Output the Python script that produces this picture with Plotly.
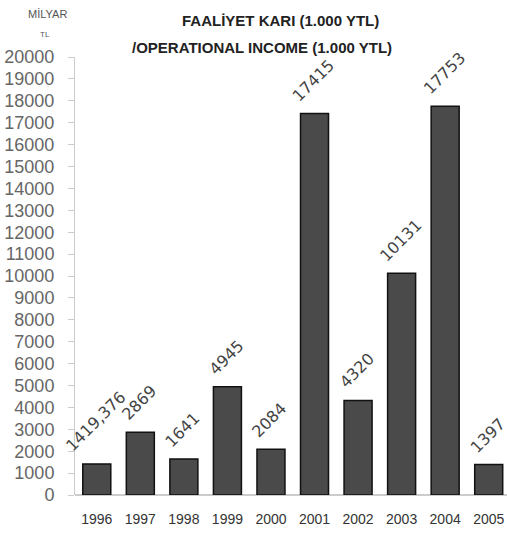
import plotly.graph_objects as go

years = ["1996", "1997", "1998", "1999", "2000", "2001", "2002", "2003", "2004", "2005"]
values = [1419.376, 2869, 1641, 4945, 2084, 17415, 4320, 10131, 17753, 1397]
labels = ["1419,376", "2869", "1641", "4945", "2084", "17415", "4320", "10131", "17753", "1397"]
y_ticks = list(range(0, 20001, 1000))

W, H = 507, 533
L_M, R_M, T_M, B_M = 75, 0, 57, 38
PW, PH = W - L_M - R_M, H - T_M - B_M

fig = go.Figure(go.Bar(
    x=years, y=values, cliponaxis=False, hoverinfo="x+y",
    marker=dict(color="#4a4a4a", line=dict(color="#111", width=1.5)),
))

annotations = []
LABEL_FONT = 16
for i, (v, lab) in enumerate(zip(values, labels)):
    n_dig = sum(c.isdigit() for c in lab)
    n_other = len(lab) - n_dig
    text_len = LABEL_FONT * (0.636 * n_dig + 0.32 * n_other)
    annotations.append(dict(
        x=i, y=v, xref="x", yref="y", text=lab, textangle=-45, showarrow=False,
        xanchor="center", yanchor="middle", yshift=0.354 * text_len + 15, xshift=-1,
        font=dict(family="DejaVu Sans", size=LABEL_FONT, color="#444"),
    ))


def header(text, px, py, size, color, bold=False):
    return dict(
        text=f"<b>{text}</b>" if bold else text,
        x=(px - L_M) / PW, y=(H - py - B_M) / PH, xref="paper", yref="paper",
        xanchor="center", yanchor="middle", showarrow=False,
        font=dict(family="Liberation Sans", size=size, color=color),
    )


annotations += [
    header("FAALİYET KARI (1.000 YTL)", 280, 21, 15, "#222", bold=True),
    header("/OPERATIONAL INCOME (1.000 YTL)", 262, 48, 15, "#222", bold=True),
    header("MİLYAR", 47, 14, 11, "#555"),
    header("TL", 45, 34, 8, "#555"),
]

fig.update_layout(
    width=W, height=H,
    margin=dict(l=L_M, r=R_M, t=T_M, b=B_M),
    paper_bgcolor="white", plot_bgcolor="white",
    bargap=0.357, showlegend=False,
    xaxis=dict(type="category", range=[-0.5, 9.42], showline=False, ticks="",
               ticklabelstandoff=14, automargin=False,
               tickfont=dict(family="Liberation Sans", size=14, color="#333"),
               showgrid=False),
    yaxis=dict(range=[0, 20000], tickvals=y_ticks, ticktext=[str(t) for t in y_ticks],
               showgrid=False, zeroline=True, automargin=False,
               zerolinecolor="#ccc", zerolinewidth=1.5, showline=True, linecolor="#ccc",
               ticks="outside", ticklen=6, tickcolor="#ccc", ticklabelstandoff=10,
               tickfont=dict(family="Liberation Sans", size=18, color="#666")),
    annotations=annotations,
)

fig.write_html(
    "out.html",
    config={"displayModeBar": False},
    post_script="document.body.style.margin='0';document.body.style.overflow='hidden';",
)
